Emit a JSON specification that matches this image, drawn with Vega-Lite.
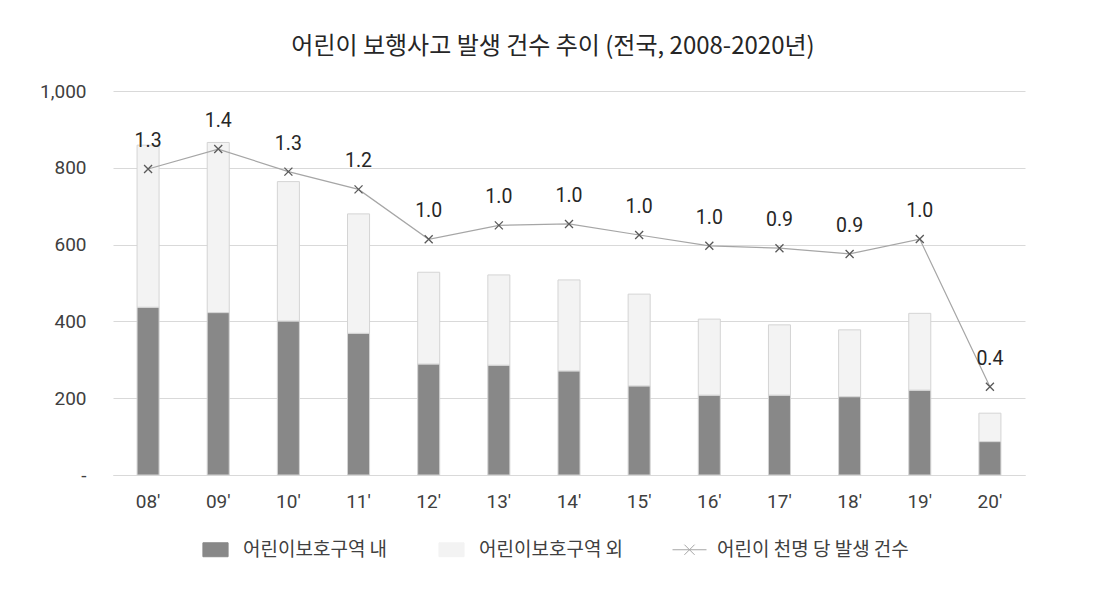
{
  "$schema": "https://vega.github.io/schema/vega-lite/v6.json",
  "width": 912,
  "height": 384,
  "autosize": {"type": "none"},
  "padding": {"left": 113, "top": 91, "right": 81, "bottom": 114},
  "background": "#ffffff",
  "config": {
    "font": "Roboto, Noto Sans CJK KR",
    "view": {"stroke": null},
    "axis": {"labelFont": "Roboto, Noto Sans CJK KR", "labelColor": "#404040", "labelFontSize": 19, "ticks": false, "domain": false, "title": null}
  },
  "title": {
    "text": "어린이 보행사고 발생 건수 추이 (전국, 2008-2020년)",
    "font": "Noto Sans CJK KR",
    "fontSize": 24,
    "fontWeight": "normal",
    "color": "#262626",
    "anchor": "middle",
    "frame": "group",
    "dx": -16,
    "offset": 23
  },
  "datasets": {
    "bars": [
      {"연도": "08'", "구분": "어린이보호구역 내", "건수": 437},
      {"연도": "08'", "구분": "어린이보호구역 외", "건수": 422},
      {"연도": "09'", "구분": "어린이보호구역 내", "건수": 423},
      {"연도": "09'", "구분": "어린이보호구역 외", "건수": 443},
      {"연도": "10'", "구분": "어린이보호구역 내", "건수": 401},
      {"연도": "10'", "구분": "어린이보호구역 외", "건수": 363},
      {"연도": "11'", "구분": "어린이보호구역 내", "건수": 369},
      {"연도": "11'", "구분": "어린이보호구역 외", "건수": 311},
      {"연도": "12'", "구분": "어린이보호구역 내", "건수": 289},
      {"연도": "12'", "구분": "어린이보호구역 외", "건수": 239},
      {"연도": "13'", "구분": "어린이보호구역 내", "건수": 286},
      {"연도": "13'", "구분": "어린이보호구역 외", "건수": 235},
      {"연도": "14'", "구분": "어린이보호구역 내", "건수": 271},
      {"연도": "14'", "구분": "어린이보호구역 외", "건수": 237},
      {"연도": "15'", "구분": "어린이보호구역 내", "건수": 232},
      {"연도": "15'", "구분": "어린이보호구역 외", "건수": 239},
      {"연도": "16'", "구분": "어린이보호구역 내", "건수": 208},
      {"연도": "16'", "구분": "어린이보호구역 외", "건수": 198},
      {"연도": "17'", "구분": "어린이보호구역 내", "건수": 208},
      {"연도": "17'", "구분": "어린이보호구역 외", "건수": 183},
      {"연도": "18'", "구분": "어린이보호구역 내", "건수": 204},
      {"연도": "18'", "구분": "어린이보호구역 외", "건수": 174},
      {"연도": "19'", "구분": "어린이보호구역 내", "건수": 221},
      {"연도": "19'", "구분": "어린이보호구역 외", "건수": 200},
      {"연도": "20'", "구분": "어린이보호구역 내", "건수": 87},
      {"연도": "20'", "구분": "어린이보호구역 외", "건수": 74}
    ],
    "rate": [
      {"연도": "08'", "천명당": 1.275},
      {"연도": "09'", "천명당": 1.358},
      {"연도": "10'", "천명당": 1.264},
      {"연도": "11'", "천명당": 1.19},
      {"연도": "12'", "천명당": 0.982},
      {"연도": "13'", "천명당": 1.04},
      {"연도": "14'", "천명당": 1.046},
      {"연도": "15'", "천명당": 1.0},
      {"연도": "16'", "천명당": 0.955},
      {"연도": "17'", "천명당": 0.945},
      {"연도": "18'", "천명당": 0.921},
      {"연도": "19'", "천명당": 0.983},
      {"연도": "20'", "천명당": 0.368}
    ]
  },
  "encoding": {
    "x": {
      "field": "연도",
      "type": "ordinal",
      "sort": null,
      "scale": {"paddingInner": 0.686, "paddingOuter": 0.343},
      "axis": {"labelAngle": 0, "labelPadding": 17, "grid": false, "domain": true, "domainColor": "#d9d9d9"}
    }
  },
  "layer": [
    {
      "data": {"name": "bars"},
      "mark": {"type": "bar", "stroke": "#d4d4d4", "strokeWidth": 1},
      "encoding": {
        "y": {
          "field": "건수",
          "type": "quantitative",
          "stack": "zero",
          "scale": {"domain": [0, 1000]},
          "axis": {
            "values": [0, 200, 400, 600, 800, 1000],
            "labelExpr": "datum.value === 0 ? '-' : format(datum.value, ',')",
            "labelPadding": 27,
            "grid": true,
            "gridColor": "#d9d9d9",
            "gridWidth": 1
          }
        },
        "order": {"field": "구분", "sort": "ascending"},
        "color": {
          "field": "구분",
          "type": "nominal",
          "scale": {
            "domain": ["어린이보호구역 내", "어린이보호구역 외", "어린이 천명 당 발생 건수"],
            "range": ["#888888", "#f3f3f3", "#a6a6a6"]
          },
          "legend": {
            "title": null,
            "orient": "none",
            "legendX": 85,
            "legendY": 441,
            "direction": "horizontal",
            "columnPadding": 46,
            "labelFont": "Noto Sans CJK KR",
            "labelFontSize": 19,
            "labelColor": "#404040",
            "labelOffset": 10,
            "labelLimit": 400,
            "symbolSize": 1156,
            "encoding": {
              "symbols": {
                "shape": {"value": {"signal": "datum.value === '어린이 천명 당 발생 건수' ? 'M-1,0H1M-0.3,-0.3L0.3,0.3M-0.3,0.3L0.3,-0.3' : 'M-0.74,-0.41H0.74V0.41H-0.74Z'"}},
                "fill": {"value": {"signal": "datum.value === '어린이보호구역 내' ? '#888888' : datum.value === '어린이보호구역 외' ? '#f3f3f3' : 'transparent'"}},
                "stroke": {"value": {"signal": "datum.value === '어린이보호구역 내' ? '#888888' : datum.value === '어린이보호구역 외' ? '#c8c8c8' : '#595959'"}},
                "strokeWidth": {"value": 1},
                "opacity": {"value": 1},
                "size": {"value": 1156}
              }
            }
          }
        }
      }
    },
    {
      "data": {"name": "rate"},
      "layer": [
        {
          "mark": {"type": "line", "strokeWidth": 1.2},
          "encoding": {
            "y": {"field": "천명당", "type": "quantitative", "scale": {"domain": [0, 1.6]}, "axis": null},
            "color": {"datum": "어린이 천명 당 발생 건수"}
          }
        },
        {
          "mark": {"type": "point", "shape": "M-1,-1L1,1M-1,1L1,-1", "filled": false, "stroke": "#595959", "strokeWidth": 1.3, "size": 64, "opacity": 1},
          "encoding": {
            "y": {"field": "천명당", "type": "quantitative", "scale": {"domain": [0, 1.6]}, "axis": null}
          }
        },
        {
          "mark": {"type": "text", "dy": -28, "baseline": "middle", "fontSize": 19.5, "color": "#262626", "font": "Roboto"},
          "encoding": {
            "y": {
              "field": "천명당",
              "type": "quantitative",
              "scale": {"domain": [0, 1.6]},
              "axis": {
                "orient": "right",
                "values": [0, 0.2, 0.4, 0.6, 0.8, 1.0, 1.2, 1.4, 1.6],
                "labelExpr": "datum.value === 0 ? '-' : format(datum.value, '.1f')",
                "labelPadding": 28,
                "grid": false
              }
            },
            "text": {"field": "천명당", "type": "quantitative", "format": ".1f"}
          }
        }
      ]
    }
  ],
  "resolve": {"scale": {"y": "independent"}}
}
